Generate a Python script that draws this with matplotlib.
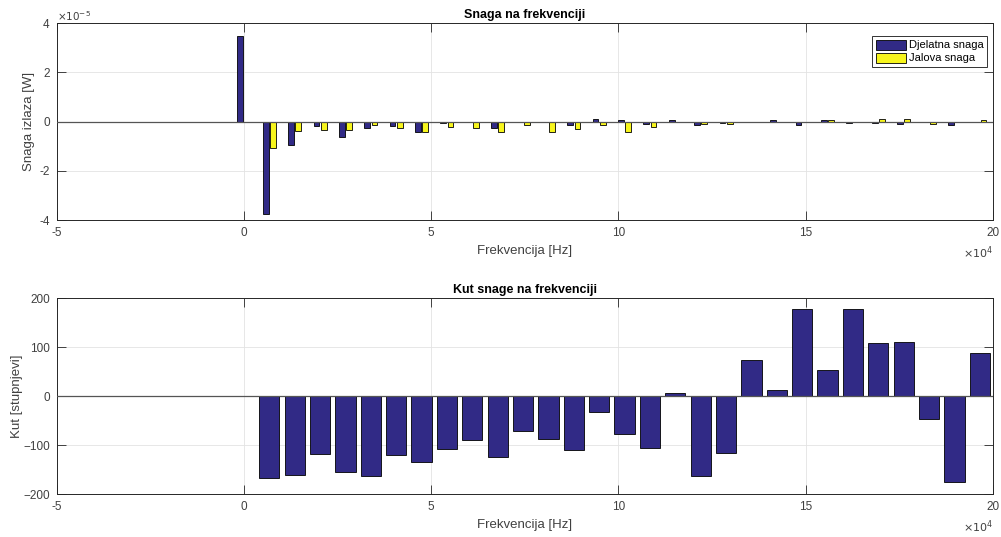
import numpy as np
import matplotlib
matplotlib.use("Agg")
import matplotlib.pyplot as plt
from matplotlib.ticker import FuncFormatter

# === Data ===
freq_hz = [0, 6775, 13550, 20325, 27100, 33875, 40650, 47425, 54200, 60975,
           67750, 74525, 81300, 88075, 94850, 101625, 108400, 115175, 121950, 128725,
           135500, 142275, 149050, 155825, 162600, 169375, 176150, 182925, 189700, 196475]

# active / reactive power, in units of 1e-5 W
djelatna = [3.48, -3.75, -0.93, -0.18, -0.64, -0.26, -0.16, -0.42, -0.07, 0.0,
            -0.27, 0.0, 0.0, -0.12, 0.10, 0.05, -0.10, 0.06, -0.14, -0.05,
            0.0, 0.07, -0.14, 0.07, -0.05, -0.04, -0.11, 0.0, -0.14, 0.0]
jalova = [0.0, -1.07, -0.37, -0.33, -0.33, -0.12, -0.27, -0.42, -0.23, -0.27,
          -0.42, -0.12, -0.42, -0.30, -0.12, -0.42, -0.20, 0.0, -0.10, -0.10,
          0.0, 0.0, 0.0, 0.07, 0.0, 0.11, 0.11, -0.10, -0.03, 0.07]

# power angle in degrees
kut = [0, -166, -160, -117, -155, -163, -119, -135, -108, -90,
       -123, -70, -88, -110, -33, -76, -105, 7, -162, -115,
       74, 13, 178, 53, 178, 109, 111, -46, -175, 88]

blue = "#312a86"
yellow = "#f7f51c"
dark = "#262626"

plt.rcParams["font.family"] = ["Liberation Sans", "DejaVu Sans"]

fig = plt.figure(figsize=(10.01, 5.37), dpi=100)
ax1 = fig.add_axes([0.0566, 0.5903, 0.9354, 0.3663])
ax2 = fig.add_axes([0.0566, 0.0795, 0.9354, 0.3650])

f = np.array(freq_hz, dtype=float)
spacing = f[1] - f[0]
P = np.array(djelatna) * 1e-5
Q = np.array(jalova) * 1e-5

# grouped bars (MATLAB style)
w_grp = 0.2286 * spacing
off = 0.143 * spacing
ax1.bar(f - off, P, width=w_grp, color=blue, edgecolor="black", linewidth=0.6,
        label="Djelatna snaga", zorder=3)
ax1.bar(f + off, Q, width=w_grp, color=yellow, edgecolor="black", linewidth=0.6,
        label="Jalova snaga", zorder=3)
ax1.axhline(0, color="#555555", linewidth=0.9, zorder=4)

ax2.bar(f, kut, width=0.8 * spacing, color=blue, edgecolor="black", linewidth=0.6,
        zorder=3)
ax2.axhline(0, color="#555555", linewidth=0.9, zorder=4)


def style(ax):
    ax.set_xlim(-5e4, 20e4)
    ax.set_xticks([-5e4, 0, 5e4, 10e4, 15e4, 20e4])
    ax.xaxis.set_major_formatter(FuncFormatter(lambda v, p: f"{v / 1e4:g}"))
    ax.grid(True, color="#e3e3e3", linewidth=0.6, zorder=0)
    ax.tick_params(direction="in", length=6.5, width=0.6, top=True, right=True,
                   colors=dark, labelcolor="#404040", labelsize=8.5, pad=5)
    for s in ax.spines.values():
        s.set_color(dark)
        s.set_linewidth(0.7)
    ax.set_axisbelow(True)


style(ax1)
style(ax2)

ax1.set_ylim(-4e-5, 4e-5)
ax1.set_yticks([-4e-5, -2e-5, 0, 2e-5, 4e-5])
ax1.yaxis.set_major_formatter(FuncFormatter(lambda v, p: f"{v / 1e-5:g}"))
ax2.set_ylim(-200, 200)
ax2.set_yticks([-200, -100, 0, 100, 200])

ax1.set_title("Snaga na frekvenciji", fontsize=9, fontweight="bold", pad=4)
ax2.set_title("Kut snage na frekvenciji", fontsize=9, fontweight="bold", pad=4)
ax1.set_xlabel("Frekvencija [Hz]", fontsize=9.5, color="#404040", labelpad=4)
ax2.set_xlabel("Frekvencija [Hz]", fontsize=9.5, color="#404040", labelpad=4)
ax1.set_ylabel("Snaga izlaza [W]", fontsize=9.5, color="#404040")
ax2.set_ylabel("Kut [stupnjevi]", fontsize=9.5, color="#404040")
ax1.yaxis.set_label_coords(-0.0232, 0.5)
ax2.yaxis.set_label_coords(-0.0356, 0.5)

# exponent labels
ax1.text(0.0, 1.004, r"$\times10^{-5}$", transform=ax1.transAxes, fontsize=7.5,
         color="#404040", ha="left", va="bottom")
ax1.text(1.0, -0.125, r"$\times10^{4}$", transform=ax1.transAxes, fontsize=8,
         color="#404040", ha="right", va="top")
ax2.text(1.0, -0.125, r"$\times10^{4}$", transform=ax2.transAxes, fontsize=8,
         color="#404040", ha="right", va="top")

leg = ax1.legend(loc="upper right", bbox_to_anchor=(1 - 6 / 936, 1 - 13 / 197),
                 fontsize=8, frameon=True, fancybox=False,
                 edgecolor="black", handlelength=2.7, handleheight=1.0,
                 borderpad=0.3, labelspacing=0.2, handletextpad=0.3,
                 borderaxespad=0.0)
leg.get_frame().set_linewidth(0.7)

fig.savefig("out.png", dpi=100)
